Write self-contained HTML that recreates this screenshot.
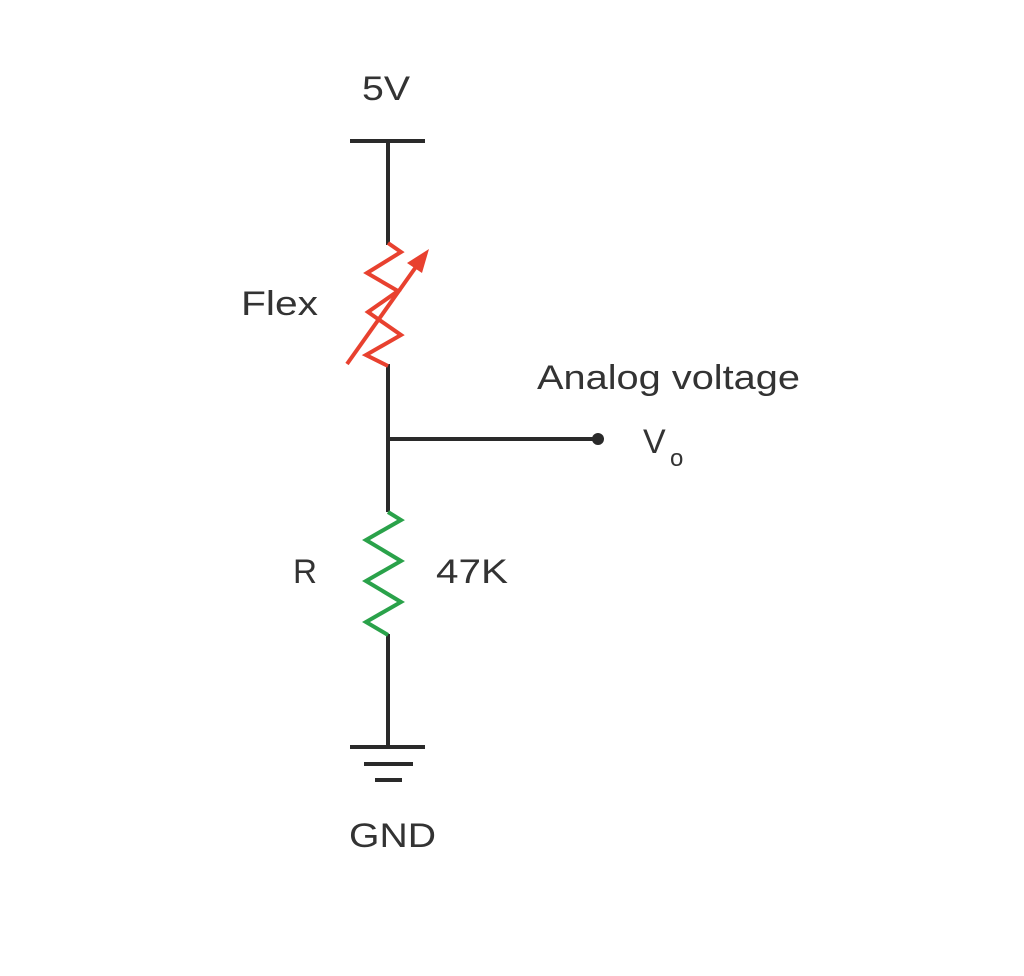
<!DOCTYPE html>
<html><head><style>body{margin:0;background:#fff}</style></head><body>
<svg width="1024" height="971" viewBox="0 0 1024 971" xmlns="http://www.w3.org/2000/svg" font-family="Liberation Sans, sans-serif" fill="#333">
<rect width="1024" height="971" fill="#fff"/>
<g stroke="#2a2a2a" stroke-width="4" fill="none">
<line x1="350" y1="141" x2="425" y2="141"/>
<line x1="388" y1="141" x2="388" y2="245"/>
<line x1="388" y1="364" x2="388" y2="512"/>
<line x1="388" y1="439" x2="598" y2="439"/>
<line x1="388" y1="634" x2="388" y2="747"/>
<line x1="350" y1="747" x2="425" y2="747"/>
<line x1="364" y1="764" x2="413" y2="764"/>
<line x1="375" y1="780" x2="402" y2="780"/>
</g>
<circle cx="598" cy="439" r="6" fill="#2a2a2a"/>
<polyline points="388,243 401,252 367,273 398,291 368,312 401,335 366,355 388,366" fill="none" stroke="#e8412f" stroke-width="4"/>
<line x1="347" y1="364" x2="418" y2="264" stroke="#e8412f" stroke-width="4"/>
<polygon points="429,249 407,263 422,273" fill="#e8412f"/>
<polyline points="388,512 401,520 366,540 401,561 366,581 401,602 366,622 388,635" fill="none" stroke="#2aa24a" stroke-width="4"/>
<g font-size="34">
<text x="362" y="100" textLength="48" lengthAdjust="spacingAndGlyphs">5V</text>
<text x="241" y="315" textLength="77" lengthAdjust="spacingAndGlyphs">Flex</text>
<text x="537" y="389" textLength="263" lengthAdjust="spacingAndGlyphs">Analog voltage</text>
<text x="643" y="453">V</text>
<text x="670" y="466" font-size="24">o</text>
<text x="293" y="583" textLength="24" lengthAdjust="spacingAndGlyphs">R</text>
<text x="436" y="583" textLength="72" lengthAdjust="spacingAndGlyphs">47K</text>
<text x="349" y="847" textLength="87" lengthAdjust="spacingAndGlyphs">GND</text>
</g>
</svg>
</body></html>
